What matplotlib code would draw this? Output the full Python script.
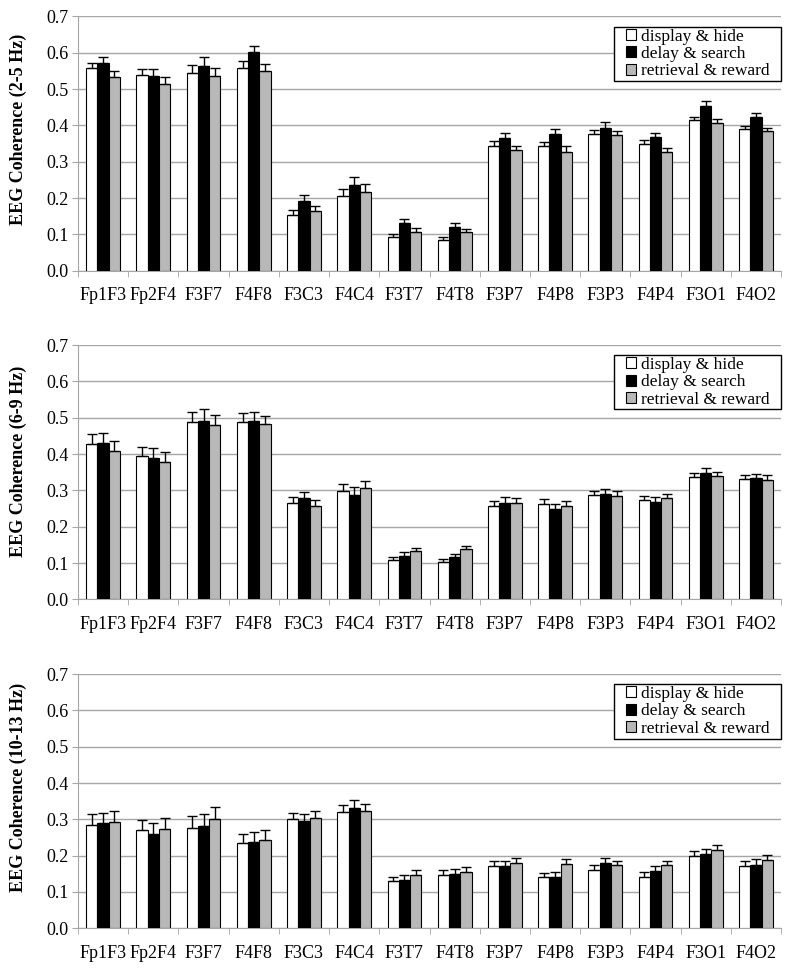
import numpy as np
import matplotlib.pyplot as plt
from matplotlib.patches import Rectangle

# electrode pairs
pairs = ['Fp1F3', 'Fp2F4', 'F3F7', 'F4F8', 'F3C3', 'F4C4', 'F3T7', 'F4T8',
         'F3P7', 'F4P8', 'F3P3', 'F4P4', 'F3O1', 'F4O2']
conditions = ['display & hide', 'delay & search', 'retrieval & reward']
bands = ['EEG Coherence (2-5 Hz)', 'EEG Coherence (6-9 Hz)', 'EEG Coherence (10-13 Hz)']

# 2-5 Hz means and upper error
theta_low_display = [0.557, 0.538, 0.543, 0.557, 0.153, 0.205, 0.092, 0.084, 0.344, 0.343, 0.377, 0.348, 0.414, 0.389]
theta_low_delay = [0.573, 0.535, 0.563, 0.602, 0.192, 0.235, 0.131, 0.119, 0.365, 0.376, 0.394, 0.367, 0.454, 0.423]
theta_low_retrieval = [0.533, 0.514, 0.535, 0.551, 0.163, 0.216, 0.107, 0.106, 0.331, 0.328, 0.373, 0.327, 0.407, 0.385]
theta_low_display_err = [0.014, 0.017, 0.024, 0.020, 0.015, 0.021, 0.008, 0.010, 0.012, 0.011, 0.010, 0.012, 0.010, 0.009]
theta_low_delay_err = [0.016, 0.019, 0.026, 0.018, 0.017, 0.024, 0.011, 0.013, 0.015, 0.015, 0.015, 0.013, 0.013, 0.010]
theta_low_retrieval_err = [0.016, 0.020, 0.024, 0.018, 0.014, 0.022, 0.010, 0.009, 0.012, 0.014, 0.012, 0.011, 0.011, 0.009]

# 6-9 Hz
theta_display = [0.428, 0.394, 0.489, 0.488, 0.266, 0.297, 0.108, 0.103, 0.256, 0.263, 0.286, 0.273, 0.337, 0.332]
theta_delay = [0.431, 0.390, 0.490, 0.491, 0.278, 0.286, 0.118, 0.116, 0.266, 0.249, 0.291, 0.268, 0.349, 0.333]
theta_retrieval = [0.409, 0.379, 0.479, 0.482, 0.258, 0.306, 0.132, 0.138, 0.264, 0.256, 0.284, 0.278, 0.339, 0.329]
theta_display_err = [0.026, 0.025, 0.028, 0.024, 0.015, 0.021, 0.009, 0.007, 0.014, 0.012, 0.013, 0.012, 0.010, 0.010]
theta_delay_err = [0.027, 0.027, 0.033, 0.025, 0.017, 0.022, 0.013, 0.010, 0.016, 0.014, 0.014, 0.013, 0.014, 0.011]
theta_retrieval_err = [0.028, 0.027, 0.029, 0.023, 0.016, 0.021, 0.010, 0.009, 0.016, 0.015, 0.013, 0.013, 0.011, 0.013]

# 10-13 Hz
alpha_display = [0.285, 0.270, 0.277, 0.234, 0.301, 0.320, 0.129, 0.146, 0.172, 0.141, 0.160, 0.141, 0.199, 0.172]
alpha_delay = [0.290, 0.260, 0.283, 0.237, 0.295, 0.330, 0.133, 0.150, 0.171, 0.141, 0.181, 0.159, 0.205, 0.174]
alpha_retrieval = [0.294, 0.274, 0.300, 0.243, 0.303, 0.324, 0.146, 0.156, 0.181, 0.178, 0.174, 0.174, 0.216, 0.187]
alpha_display_err = [0.029, 0.029, 0.032, 0.027, 0.017, 0.019, 0.011, 0.014, 0.013, 0.012, 0.013, 0.013, 0.013, 0.013]
alpha_delay_err = [0.028, 0.029, 0.032, 0.027, 0.020, 0.023, 0.013, 0.014, 0.014, 0.014, 0.013, 0.013, 0.014, 0.017]
alpha_retrieval_err = [0.028, 0.030, 0.033, 0.028, 0.019, 0.019, 0.015, 0.013, 0.013, 0.013, 0.012, 0.012, 0.014, 0.014]

panels = [
    ([theta_low_display, theta_low_delay, theta_low_retrieval],
     [theta_low_display_err, theta_low_delay_err, theta_low_retrieval_err]),
    ([theta_display, theta_delay, theta_retrieval],
     [theta_display_err, theta_delay_err, theta_retrieval_err]),
    ([alpha_display, alpha_delay, alpha_retrieval],
     [alpha_display_err, alpha_delay_err, alpha_retrieval_err]),
]

colors = ['white', 'black', '#b8b8b8']
grid_col = '#a6a6a6'

plt.rcParams['font.family'] = ['Liberation Serif', 'DejaVu Serif']

fig = plt.figure(figsize=(8, 9.75), dpi=100)
bottoms = [0.7224, 0.3853, 0.0479]
label_y = [0.556, 0.542, 0.556]
leg_top = [0.959, 0.961, 0.960]

x = np.arange(len(pairs))
w = 0.224

axes, legends = [], []
for i, (vals, errs) in enumerate(panels):
    ax = fig.add_axes([0.0975, bottoms[i], 0.8788, 0.2607])
    for j in range(3):
        ax.bar(x + (j - 1) * w, vals[j], w, color=colors[j], edgecolor='black',
               linewidth=0.8, label=conditions[j], zorder=3,
               yerr=[np.zeros(len(pairs)), errs[j]],
               error_kw=dict(ecolor='black', elinewidth=1.0, capsize=3.5, capthick=1.0))
    ax.set_xlim(-0.5, len(pairs) - 0.5)
    ax.set_ylim(0, 0.7)
    ax.set_yticks(np.arange(0, 0.71, 0.1))
    ax.set_yticklabels(['%.1f' % v for v in np.arange(0, 0.71, 0.1)], fontsize=13)
    ax.yaxis.grid(True, color=grid_col, linewidth=1.0, zorder=0)
    ax.set_axisbelow(True)
    ax.set_xticks(x)
    ax.set_xticklabels(pairs, fontsize=13)
    ax.set_xticks(np.arange(-0.5, len(pairs)), minor=True)
    ax.tick_params(axis='x', which='major', length=0, pad=12)
    ax.tick_params(axis='x', which='minor', length=4, color=grid_col, direction='out')
    ax.tick_params(axis='y', length=4, color=grid_col, pad=3)
    for s in ['top', 'right']:
        ax.spines[s].set_visible(False)
    ax.spines['left'].set_color(grid_col)
    ax.spines['bottom'].set_color(grid_col)
    ax.set_ylabel(bands[i], fontsize=13, fontweight='bold')
    ax.yaxis.set_label_coords(-0.073, label_y[i])
    leg = ax.legend(loc='upper right', bbox_to_anchor=(0.986, leg_top[i]), fontsize=12.5,
                    frameon=False, handlelength=0.6, handleheight=0.6, handletextpad=0.25,
                    labelspacing=0.08, borderpad=0.1, borderaxespad=0)
    for h in leg.legend_handles:
        h.set_linewidth(0.8)
    leg.set_zorder(7)
    axes.append(ax)
    legends.append(leg)

# Excel-style legend frame: wider on the sides than top/bottom
fig.canvas.draw()
r = fig.canvas.get_renderer()
for ax, leg in zip(axes, legends):
    bb = leg.get_window_extent(r)
    pad_x = 10
    ax.add_patch(Rectangle((bb.x0 - pad_x, bb.y0), bb.width + 2 * pad_x, bb.height,
                           transform=None, facecolor='white', edgecolor='black',
                           linewidth=1.0, zorder=6, clip_on=False))

fig.savefig('out.png', dpi=100, facecolor='white')
